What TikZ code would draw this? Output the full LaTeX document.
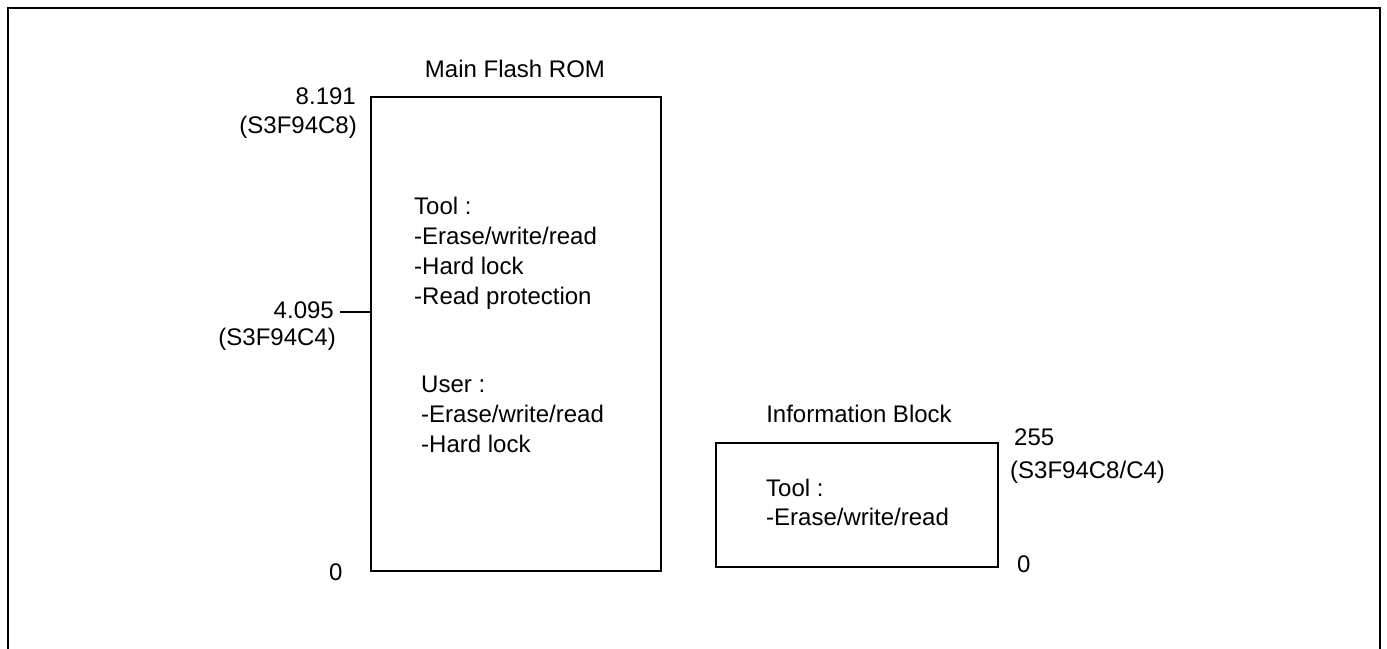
\documentclass[tikz,border=0pt]{standalone}
\usepackage{fontspec}
\setmainfont{Liberation Sans}
\begin{document}
\begin{tikzpicture}[x=1pt,y=-1pt,
  frame/.style={line width=1.6pt},
  mem/.style={draw,line width=1.4pt,rectangle,inner sep=0pt},
  lbl/.style={inner sep=0pt,font=\fontsize{24}{30}\selectfont},
  lw/.style={lbl,anchor=base west},
  le/.style={lbl,anchor=base east},
  lc/.style={lbl,anchor=base}]
\useasboundingbox (0,0) rectangle (1387,648);
% outer frame (bottom edge cut off)
\draw[frame] (8,660) -- (8,8) -- (1380,8) -- (1380,660);
% main flash ROM
\node[mem,minimum width=290pt,minimum height=474pt] (rom) at (516,334) {};
\node[lc] (romt) at (515,77) {Main Flash ROM};
\node[le] (a8191) at (356,104) {8.191};
\node[le] (c8) at (357,133) {(S3F94C8)};
\node[le] (a4095) at (334,318) {4.095};
\node[le] (c4) at (336,345) {(S3F94C4)};
\coordinate (tk) at (340,312);
\draw[line width=1.4pt] (tk) -- (tk -| rom.west);
\node[lw] (zero1) at (329,580) {0};
\node[lw] (t1) at (414,214) {Tool :};
\node[lw] (t2) at (414,244) {-Erase/write/read};
\node[lw] (t3) at (414,274) {-Hard lock};
\node[lw] (t4) at (414,304) {-Read protection};
\node[lw] (u1) at (421,392) {User :};
\node[lw] (u2) at (421,422) {-Erase/write/read};
\node[lw] (u3) at (421,452) {-Hard lock};
% information block
\node[mem,minimum width=282pt,minimum height=124pt] (info) at (857,505) {};
\node[lc] (infot) at (859,422) {Information Block};
\node[lw] (i1) at (766,496) {Tool :};
\node[lw] (i2) at (766,525) {-Erase/write/read};
\node[lw] (a255) at (1014,445) {255};
\node[lw] (c84) at (1010,478) {(S3F94C8/C4)};
\node[lw] (zero2) at (1017,572) {0};
\end{tikzpicture}
\end{document}
